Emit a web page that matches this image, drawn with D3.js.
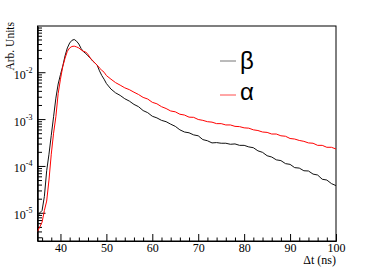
<!DOCTYPE html>
<html>
<head>
<meta charset="utf-8">
<script src="https://cdn.jsdelivr.net/npm/d3@7"></script>
<style>
  body { margin: 0; background: #fff; }
  svg { display: block; }
  .axis path, .axis line { stroke: #000; }
</style>
</head>
<body>
<svg id="chart"></svg>
<script>
// time bins (ns)
const times = [35, 35.5, 36, 36.5, 37, 37.5, 38, 38.5, 39, 39.5, 40, 40.5, 41, 41.5, 42, 42.5,
  43, 43.5, 44, 44.5, 45, 45.5, 46, 46.5, 47, 47.5, 48, 48.5, 49, 49.5, 50,
  51, 52, 53, 54, 55, 56, 57, 58, 59, 60, 61, 62, 63, 64, 65, 66, 67, 68, 69, 70,
  71, 72, 73, 74, 75, 76, 77, 78, 79, 80, 81, 82, 83, 84, 85, 86, 87, 88, 89, 90,
  91, 92, 93, 94, 95, 96, 97, 98, 99, 100];

// beta (black)
const betaValues = [7.9e-6, 1.0e-5, 1.12e-5, 2.24e-5, 7.9e-5, 1.78e-4, 4.5e-4, 1.12e-3, 2.8e-3, 5.6e-3,
  8.9e-3, 0.0135, 0.0224, 0.033, 0.042, 0.048, 0.050, 0.046, 0.040, 0.032,
  0.0275, 0.0251, 0.0224, 0.020, 0.0174, 0.0158, 0.0141, 0.0107, 8.5e-3, 7.1e-3, 5.75e-3,
  4.37e-3, 3.63e-3, 3.2e-3, 2.72e-3, 2.42e-3, 2.06e-3, 1.84e-3, 1.52e-3, 1.37e-3, 1.15e-3,
  1.06e-3, 9.4e-4, 8.8e-4, 7.8e-4, 7.0e-4, 5.9e-4, 5.3e-4, 5.1e-4, 4.6e-4, 4.4e-4,
  3.65e-4, 3.45e-4, 3.1e-4, 3.15e-4, 3.05e-4, 3.05e-4, 2.9e-4, 2.95e-4, 2.75e-4, 2.75e-4,
  2.55e-4, 2.45e-4, 2.1e-4, 1.95e-4, 1.65e-4, 1.55e-4, 1.35e-4, 1.3e-4, 1.12e-4, 1.08e-4,
  9.2e-5, 9.0e-5, 7.9e-5, 7.8e-5, 6.7e-5, 6.4e-5, 5.2e-5, 5.0e-5, 4.2e-5, 3.8e-5];

// alpha (red)
const alphaValues = [4.0e-6, 5.0e-6, 6.3e-6, 1.12e-5, 1.78e-5, 5.0e-5, 1.78e-4, 5.0e-4, 1.12e-3, 3.5e-3,
  7.1e-3, 0.0132, 0.020, 0.028, 0.033, 0.0355, 0.036, 0.0347, 0.033, 0.030,
  0.028, 0.027, 0.024, 0.020, 0.0178, 0.0158, 0.0141, 0.0123, 0.011, 0.010, 8.5e-3,
  7.1e-3, 6.0e-3, 5.3e-3, 4.65e-3, 4.25e-3, 3.75e-3, 3.35e-3, 2.9e-3, 2.68e-3, 2.28e-3,
  2.12e-3, 1.84e-3, 1.68e-3, 1.49e-3, 1.43e-3, 1.27e-3, 1.22e-3, 1.1e-3, 1.09e-3, 9.8e-4,
  9.4e-4, 8.8e-4, 8.6e-4, 8.0e-4, 8.0e-4, 7.5e-4, 7.5e-4, 7.0e-4, 6.9e-4, 6.5e-4,
  6.4e-4, 5.9e-4, 5.7e-4, 5.3e-4, 5.2e-4, 4.8e-4, 4.8e-4, 4.4e-4, 4.3e-4, 3.85e-4,
  3.75e-4, 3.5e-4, 3.35e-4, 3.1e-4, 3.05e-4, 2.75e-4, 2.75e-4, 2.5e-4, 2.5e-4, 2.3e-4];

const xTicks = [40, 50, 60, 70, 80, 90, 100];
const yTicks = [1e-5, 1e-4, 1e-3, 1e-2];
const yExponents = ["-5", "-4", "-3", "-2"];
const seriesNames = ["\u03b2", "\u03b1"];

const serif = '"Liberation Serif", "Times New Roman", "DejaVu Serif", serif';
const W = 374, H = 268;
const margin = { top: 26, right: 38, bottom: 27, left: 37.5 };
const width = W - margin.left - margin.right;
const height = H - margin.top - margin.bottom;

const svg = d3.select('#chart')
  .attr('width', W)
  .attr('height', H);

const chart = svg.append('g')
  .attr('transform', `translate(${margin.left},${margin.top})`);

const xScale = d3.scaleLinear().domain([35, 100]).range([0, width]);
const yScale = d3.scaleLog().domain([2.5e-6, 0.097]).range([height, 0]);

// minor ticks
const xMinor = d3.range(36, 100, 2).filter(v => v % 10 !== 0);
const yMinor = [];
[1e-6, 1e-5, 1e-4, 1e-3, 1e-2].forEach(dec => {
  for (let k = 2; k <= 9; k++) {
    const v = dec * k;
    if (v >= 2.5e-6 && v <= 0.097) yMinor.push(v);
  }
});

// x axis (ticks point inward)
const xAxisG = chart.append('g')
  .attr('class', 'axis x-axis')
  .attr('transform', `translate(0,${height})`);
xAxisG.call(d3.axisBottom(xScale).tickValues(xMinor).tickSize(-3.5).tickFormat('').tickSizeOuter(0));
xAxisG.append('g').call(d3.axisBottom(xScale).tickValues(xTicks).tickSize(-7).tickPadding(2.5).tickSizeOuter(0))
  .attr('font-family', serif)
  .attr('font-size', 12)
  .selectAll('text').attr('fill', '#000');

// y axis
const yAxisG = chart.append('g').attr('class', 'axis y-axis');
yAxisG.call(d3.axisLeft(yScale).tickValues(yMinor).tickSize(-4.5).tickFormat('').tickSizeOuter(0));
const yMajor = yAxisG.append('g')
  .call(d3.axisLeft(yScale).tickValues(yTicks).tickSize(-8).tickPadding(5).tickSizeOuter(0).tickFormat(() => ''))
  .attr('font-family', serif)
  .attr('font-size', 12);
yMajor.selectAll('.tick text')
  .attr('fill', '#000')
  .attr('dy', '0.5em')
  .each(function(d, i) {
    const t = d3.select(this);
    t.append('tspan').text('10');
    t.append('tspan').attr('font-size', '8px').attr('dy', '-0.75em').text(yExponents[i]);
  });

// frame
chart.append('rect')
  .attr('width', width)
  .attr('height', height)
  .attr('fill', 'none')
  .attr('stroke', '#000')
  .attr('stroke-width', 1);

// axis titles
svg.append('text')
  .attr('x', margin.left + width)
  .attr('y', 264)
  .attr('text-anchor', 'end')
  .attr('font-family', serif)
  .attr('font-size', '12px')
  .text('\u0394t (ns)');

svg.append('text')
  .attr('transform', 'translate(13.5,22) rotate(-90)')
  .attr('text-anchor', 'end')
  .attr('font-family', serif)
  .attr('font-size', '11.5px')
  .text('Arb. Units');

// curves
svg.append('clipPath').attr('id', 'clip')
  .append('rect').attr('width', width).attr('height', height);

const line = d3.line()
  .x((d, i) => xScale(times[i]))
  .y(d => yScale(d));

const plot = chart.append('g').attr('clip-path', 'url(#clip)');
plot.append('path')
  .datum(betaValues)
  .attr('fill', 'none')
  .attr('stroke', '#111')
  .attr('stroke-width', 1)
  .attr('d', line);
plot.append('path')
  .datum(alphaValues)
  .attr('fill', 'none')
  .attr('stroke', '#ff0000')
  .attr('stroke-width', 1)
  .attr('d', line);

// legend
const legendColors = ['#777', '#ff4d4d'];
const legendY = [61, 95];
const legend = svg.append('g');
seriesNames.forEach((name, i) => {
  legend.append('line')
    .attr('x1', 220).attr('x2', 236)
    .attr('y1', legendY[i]).attr('y2', legendY[i])
    .attr('stroke', legendColors[i])
    .attr('stroke-width', 1);
  legend.append('text')
    .attr('x', 240)
    .attr('y', legendY[i] + (i === 0 ? 8 : 5))
    .attr('font-family', '"Liberation Sans", "DejaVu Sans", sans-serif')
    .attr('font-size', '24px')
    .text(name);
});
</script>
</body>
</html>
